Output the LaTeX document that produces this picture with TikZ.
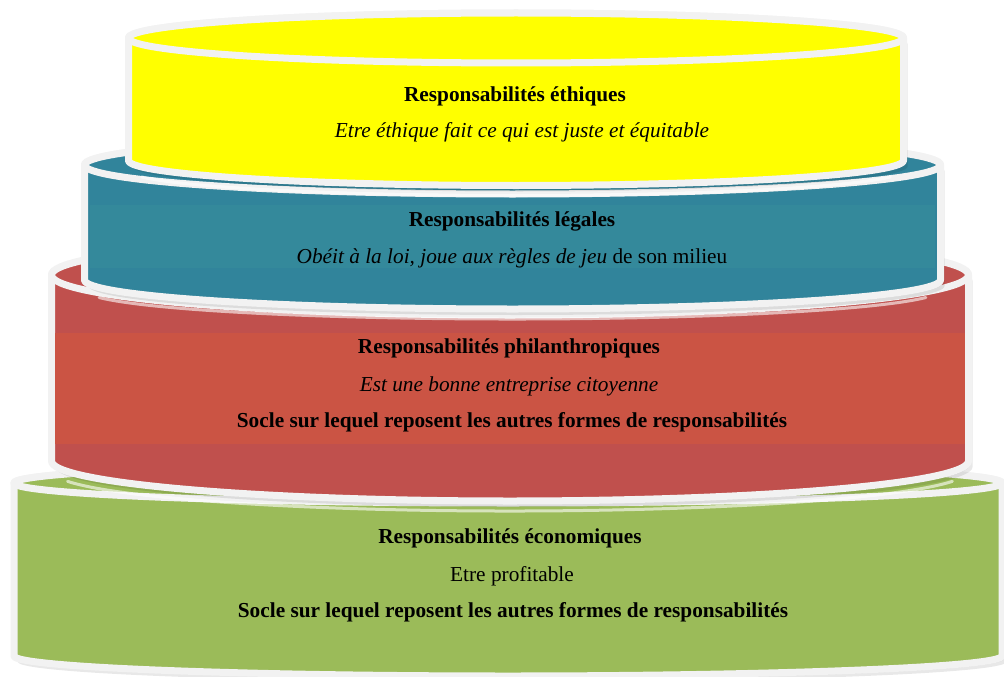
\documentclass[tikz,border=0pt]{standalone}
\usepackage{fontspec}
\setmainfont{Liberation Serif}
\definecolor{yel}{HTML}{FFFF00}
\definecolor{tealA}{HTML}{31849B}
\definecolor{tealB}{HTML}{34899B}
\definecolor{redA}{HTML}{C0504D}
\definecolor{redB}{HTML}{CB5444}
\definecolor{grn}{HTML}{9BBB59}
\definecolor{rim}{HTML}{F2F2F2}
\tikzset{
  rimline/.style={draw=rim,line width=7pt,line join=round},
  txt/.style={anchor=base,inner sep=0pt,font=\fontsize{21.3}{25}\selectfont},
}
% #1 cx, #2 rx, #3 ytop, #4 ybot, #5 ry, #6 colour
\newcommand{\cylshadow}[7]{%
  \begin{scope}[shift={(#7)}]
    \fill[black,opacity=0.09] (#1-#2,#3) -- (#1-#2,#4) arc[start angle=180,end angle=360,x radius=#2pt,y radius=#5pt] -- (#1+#2,#3) arc[start angle=0,end angle=180,x radius=#2pt,y radius=#5pt] -- cycle;
  \end{scope}}
\newcommand{\layer}[6]{%
  \cylshadow{#1}{#2}{#3}{#4}{#5}{#6}{2,3}
  \cylshadow{#1}{#2}{#3}{#4}{#5}{#6}{4,6}
  \filldraw[fill=#6,rimline] (#1-#2,#3) -- (#1-#2,#4) arc[start angle=180,end angle=360,x radius=#2pt,y radius=#5pt] -- (#1+#2,#3) arc[start angle=0,end angle=180,x radius=#2pt,y radius=#5pt] -- cycle;
  \filldraw[fill=#6,rimline] (#1,#3) ellipse[x radius=#2pt,y radius=#5pt];
}
% reflection of an upper layer's bottom onto the layer below: cx, rx, ybot, ry
\newcommand{\glint}[4]{%
  \draw[white,line width=3pt,opacity=0.6,line cap=round] (#1-0.966*#2,#3+10+0.259*#4) arc[start angle=195,end angle=345,x radius=#2pt,y radius=#4pt];
}
\begin{document}
\begin{tikzpicture}[x=1pt,y=-1pt]
\useasboundingbox (0,0) rectangle (1004,677);
\fill[white] (0,0) rectangle (1004,677);
% economic (green)
\layer{508}{494}{483}{656}{20}{grn}
\glint{510}{458}{461}{40}
% philanthropic (red)
\layer{510}{458.5}{275}{461}{40}{redA}
\fill[redB] (55,333) rectangle (965,444);
\glint{512.5}{428}{280}{29}
% legal (teal)
\layer{512.5}{428}{165}{280}{29}{tealA}
\fill[tealB] (90,205) rectangle (935,268);
\glint{516}{387.5}{160.5}{25}
% ethical (yellow)
\layer{516}{387.5}{38}{160.5}{25}{yel}
% texts
\node[txt] (e1) at (515,101) {\bfseries Responsabilités éthiques};
\node[txt] (e2) at (522,137) {\itshape Etre éthique fait ce qui est juste et équitable};
\node[txt] (l1) at (512,226) {\bfseries Responsabilités légales};
\node[txt] (l2) at (512,263) {{\itshape Obéit à la loi, joue aux règles de jeu} de son milieu};
\node[txt] (p1) at (509,353) {\bfseries Responsabilités philanthropiques};
\node[txt] (p2) at (509,391) {\itshape Est une bonne entreprise citoyenne};
\node[txt] (p3) at (512,427) {\bfseries Socle sur lequel reposent les autres formes de responsabilités};
\node[txt] (c1) at (510,543) {\bfseries Responsabilités économiques};
\node[txt] (c2) at (512,581) {Etre profitable};
\node[txt] (c3) at (513,617) {\bfseries Socle sur lequel reposent les autres formes de responsabilités};
\end{tikzpicture}
\end{document}
